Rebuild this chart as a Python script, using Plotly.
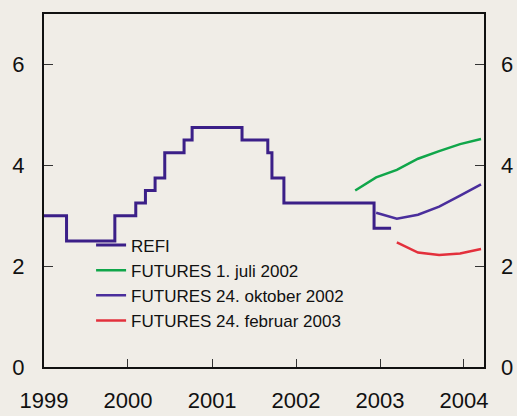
import plotly.graph_objects as go

# REFI step series (date of change, rate)
refi_dates = ["1999-01-01", "1999-04-09", "1999-11-05", "2000-02-04", "2000-03-17",
              "2000-04-28", "2000-06-09", "2000-09-01", "2000-10-06", "2001-05-11",
              "2001-08-31", "2001-09-18", "2001-11-09", "2002-12-06", "2003-02-18"]
refi_values = [3.0, 2.5, 3.0, 3.25, 3.5, 3.75, 4.25, 4.5, 4.75, 4.5,
               4.25, 3.75, 3.25, 2.75, 2.75]

fut_jul_dates = ["2002-09-15", "2002-12-15", "2003-03-15", "2003-06-15",
                 "2003-09-15", "2003-12-15", "2004-03-15"]
fut_jul_values = [3.50, 3.76, 3.91, 4.13, 4.28, 4.42, 4.52]

fut_okt_dates = ["2002-12-15", "2003-03-15", "2003-06-15", "2003-09-15",
                 "2003-12-15", "2004-03-15"]
fut_okt_values = [3.06, 2.94, 3.02, 3.18, 3.40, 3.62]

fut_feb_dates = ["2003-03-15", "2003-06-15", "2003-09-15", "2003-12-15", "2004-03-15"]
fut_feb_values = [2.47, 2.27, 2.22, 2.25, 2.34]

y_ticks = [0, 2, 4, 6]
x_tick_years = ["1999", "2000", "2001", "2002", "2003", "2004"]

BG = "#f0ede7"
FONT = "Liberation Sans, Arial, sans-serif"

fig = go.Figure()
fig.add_trace(go.Scatter(x=refi_dates, y=refi_values, mode="lines", line_shape="hv",
                         name="REFI", line=dict(color="#3b1f88", width=3)))
fig.add_trace(go.Scatter(x=fut_jul_dates, y=fut_jul_values, mode="lines",
                         name="FUTURES 1. juli 2002", line=dict(color="#10a64a", width=2.5)))
fig.add_trace(go.Scatter(x=fut_okt_dates, y=fut_okt_values, mode="lines",
                         name="FUTURES 24. oktober 2002", line=dict(color="#4a2e9c", width=2.5)))
fig.add_trace(go.Scatter(x=fut_feb_dates, y=fut_feb_values, mode="lines",
                         name="FUTURES 24. februar 2003", line=dict(color="#e3303c", width=2.5)))
# invisible trace to activate the right axis
fig.add_trace(go.Scatter(x=[refi_dates[0]], y=[0], yaxis="y2", mode="lines",
                         showlegend=False, hoverinfo="skip", line=dict(width=0)))

fig.update_layout(
    width=517, height=416,
    paper_bgcolor=BG, plot_bgcolor=BG,
    margin=dict(l=44, r=33, t=14, b=49),
    font=dict(family=FONT, color="#111111"),
    xaxis=dict(
        type="date", range=["1999-01-01", "2004-03-28"], automargin=False,
        tickvals=[y + "-01-01" for y in x_tick_years], ticktext=x_tick_years,
        ticks="inside", ticklen=8, tickcolor="#333333", tickwidth=1,
        showline=True, linecolor="#111111", linewidth=2, mirror=True,
        showgrid=False, zeroline=False,
        tickfont=dict(size=22), ticklabelstandoff=13,
    ),
    yaxis=dict(
        range=[0, 7], tickvals=y_ticks, automargin=False,
        ticks="inside", ticklen=9, tickcolor="#333333", tickwidth=1,
        showline=True, linecolor="#111111", linewidth=2, mirror=True,
        showgrid=False, zeroline=False,
        tickfont=dict(size=22), ticklabelstandoff=13,
    ),
    yaxis2=dict(
        range=[0, 7], tickvals=y_ticks, overlaying="y", side="right", automargin=False,
        ticks="inside", ticklen=9, tickcolor="#333333", tickwidth=1,
        showline=False, showgrid=False, zeroline=False,
        tickfont=dict(size=22), ticklabelstandoff=16,
    ),
    legend=dict(
        x=0.107, y=0.395, xanchor="left", yanchor="top",
        bgcolor="rgba(0,0,0,0)", font=dict(size=17), tracegroupgap=0,
    ),
    showlegend=True,
)

fig.write_html("out.html", config={"displayModeBar": False},
               post_script="document.body.style.margin='0';document.body.style.overflow='hidden';")
